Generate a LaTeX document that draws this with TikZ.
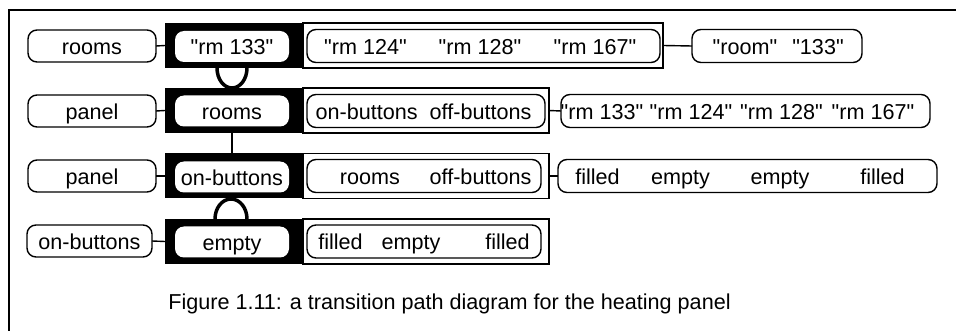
\documentclass[tikz,border=0pt]{standalone}
\usepackage{fontspec}
\setmainfont{Liberation Sans}[Ligatures=TeXOff]
\usetikzlibrary{calc}
\begin{document}
\begin{tikzpicture}[x=1pt,y=-1pt,
  every node/.style={font=\fontsize{21.6}{26}\selectfont, inner sep=0pt, outer sep=0pt, text height=17pt, text depth=0pt},
  txt/.style={},
  pill/.style={draw, line width=1.4pt, rounded corners=9pt, fill=white, minimum height=32pt},
  wpill/.style={fill=white, rounded corners=9pt, minimum height=31pt, minimum width=114pt},
  blackbox/.style={fill=black, minimum width=138pt, minimum height=45pt},
  outerbox/.style={draw, line width=1.3pt, fill=white, minimum height=45pt},
  link/.style={line width=1.4pt},
  loopline/.style={line width=3.5pt}]
\useasboundingbox (0,0) rectangle (956,331);
% frame
\draw[line width=1.3pt] (956,10) -- (9,10) -- (9,331);

% ---------- Row 1 ----------
\node[pill, minimum width=128pt] (L1) at (92,46) {rooms};
\node[outerbox, minimum width=360pt] (O1) at (483,45.5) {};
\node[blackbox] (B1) at (234,45.5) {};
\node[wpill] (P1) at (232,46.5) {"rm 133"};
\node[pill, minimum width=353pt, minimum height=33pt] (I1) at (483.5,46) {};
\node[txt] (t11) at (365.5,46) {"rm 124"};
\node[txt] (t12) at (480,46) {"rm 128"};
\node[txt] (t13) at (595,46) {"rm 167"};
\node[pill, minimum width=170pt, minimum height=33pt] (R1) at (777,46) {};
\node[txt] (t14) at (745,46) {"room"};
\node[txt] (t15) at (818,46) {"133"};
\draw[link] (L1.east) -- (B1.west);
\draw[link] (O1.east) -- (R1.west);

% ---------- Row 2 ----------
\node[pill, minimum width=128pt] (L2) at (92,111) {panel};
\node[outerbox, minimum width=246pt] (O2) at (426,110.5) {};
\node[blackbox] (B2) at (234,110.5) {};
\node[wpill] (P2) at (232,111) {rooms};
\node[pill, minimum width=238pt, minimum height=33pt] (I2) at (426,111) {};
\node[txt] (t21) at (423.5,111) {on-buttons\hspace{0.556em}off-buttons};
\node[pill, minimum width=369pt, minimum height=33pt] (R2) at (745.5,111) {};
\node[txt] (t22) at (602,111) {"rm 133"};
\node[txt] (t23) at (691,111) {"rm 124"};
\node[txt] (t24) at (781.5,111) {"rm 128"};
\node[txt] (t25) at (873,111) {"rm 167"};
\draw[link] (L2.east) -- (B2.west);
\draw[link] (O2.east) -- (R2.west);

% ---------- Row 3 ----------
\node[pill, minimum width=128pt] (L3) at (92,176) {panel};
\node[outerbox, minimum width=246pt] (O3) at (426,176) {};
\node[blackbox] (B3) at (234,176) {};
\node[wpill] (P3) at (232,177) {on-buttons};
\node[pill, minimum width=234pt, minimum height=33pt] (I3) at (424,176) {};
\node[txt] (t31) at (370,176) {rooms};
\node[txt] (t32) at (480.5,176) {off-buttons};
\node[pill, minimum width=379pt, minimum height=33pt] (R3) at (747.5,176) {};
\node[txt] (t33) at (597.5,176) {filled};
\node[txt] (t34) at (680.5,176) {empty};
\node[txt] (t35) at (780,176) {empty};
\node[txt] (t36) at (882.5,176) {filled};
\draw[link] (L3.east) -- (B3.west);
\draw[link] (O3.east) -- (R3.west);

% ---------- Row 4 ----------
\node[pill, minimum width=125pt] (L4) at (89.5,241) {on-buttons};
\node[outerbox, minimum width=246pt] (O4) at (426,241.5) {};
\node[blackbox] (B4) at (234,241.5) {};
\node[wpill] (P4) at (232,242) {empty};
\node[pill, minimum width=234pt, minimum height=33pt] (I4) at (424,241.5) {};
\node[txt] (t41) at (340.5,241.5) {filled};
\node[txt] (t42) at (411,241.5) {empty};
\node[txt] (t43) at (507.5,241.5) {filled};
\draw[link] (L4.east) -- (B4.west);

% ---------- links between rows ----------
\coordinate (u1) at ($(B1.south)+(-17,0)$);
\draw[loopline] (u1) arc[start angle=180, end angle=0, x radius=15, y radius=20];
\draw[line width=2.8pt] ($(B2.south)+(-2,0)$) -- ($(B3.north)+(-2,0)$);
\coordinate (u4) at ($(B4.north)+(-19,0)$);
\draw[loopline] (u4) arc[start angle=180, end angle=360, x radius=16, y radius=20];

% caption
\node[txt] (cap) at (449.5,301) {Figure 1.11: a transition path diagram for the heating panel};
\end{tikzpicture}
\end{document}
